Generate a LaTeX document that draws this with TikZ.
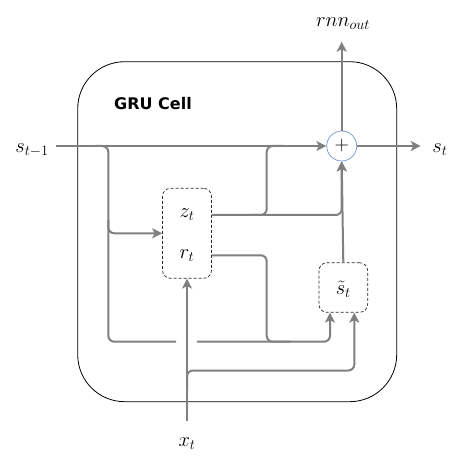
\RequirePackage{fix-cm}
\documentclass[tikz,border=0pt]{standalone}
\usepackage{fontspec}
\newfontfamily\labelfont{DejaVu Sans}
\usetikzlibrary{arrows.meta}
\begin{document}
\begin{tikzpicture}[x=1pt,y=-1pt,
  wire/.style={draw={rgb,255:red,128;green,128;blue,128}, line width=2pt, rounded corners=6pt},
  arr/.style={-{Stealth[length=10pt,width=10pt,inset=2.5pt]}},
  gatebox/.style={draw={rgb,255:red,40;green,40;blue,40}, line width=0.7pt, dash pattern=on 3pt off 2pt, rounded corners=8pt, inner sep=0pt},
  lbl/.style={font=\fontsize{20.5}{24}\selectfont, inner sep=0pt}
]
\useasboundingbox (0,0) rectangle (469,468);
% outer cell
\node[draw, line width=0.8pt, rounded corners=47pt, minimum width=319pt, minimum height=340pt] (cell) at (237.2,231.7) {};
\node[font=\labelfont\bfseries\fontsize{16}{18}\selectfont, inner sep=0pt] (title) at (153,104) {GRU Cell};
% gates
\node[gatebox, minimum width=49pt, minimum height=90pt] (gate) at (187,233.3) {};
\node[lbl] (zt) at (187,215) {$z_t$};
\node[lbl] (rt) at (187,255.3) {$r_t$};
\node[gatebox, minimum width=48.7pt, minimum height=49.6pt] (st) at (343.3,287.5) {};
\node[lbl] (stl) at (343.3,289) {$\tilde{s}_t$};
% adder
\node[circle, draw={rgb,255:red,110;green,150;blue,215}, line width=0.7pt, minimum size=30pt, inner sep=0pt, font=\fontsize{20}{22}\selectfont] (plus) at (341.7,146) {$+$};
% outer labels
\node[lbl] (sin) at (32,150) {$s_{t-1}$};
\node[lbl] (sout) at (440,150) {$s_t$};
\node[lbl] (rnn) at (343,24) {$rnn_{out}$};
\node[lbl] (xin) at (187,444) {$x_t$};
% free ends
\coordinate (a0) at (56,146);
\coordinate (rnntip) at (341.7,41.7);
\coordinate (souttip) at (420.7,146);
\coordinate (x0) at (187,420.7);
% main state line
\draw[wire,arr] (a0) -- (plus.west);
\draw[wire,arr] (plus.east) -- (souttip);
\draw[wire,arr] (plus.north) -- (rnntip);
% s_{t-1} branches
\draw[wire] (95,146) -- (108.3,146) -- (108.3,341.7) -- (176,341.7);
\draw[wire,arr] (108.3,220) -- (108.3,233.3) -- (gate.west);
\draw[wire,arr] (197,341.7) -- (330,341.7) -- ([xshift=-13.3pt]st.south);
% z_t output
\draw[wire,arr] (gate.east |- zt) -- (341.7,215) -- (plus.south);
\draw[wire] (285,146) -- (266.7,146) -- (266.7,215) -- (250,215);
\draw[wire,arr] (st.north) -- (plus.south);
% r_t output
\draw[wire] (gate.east |- rt) -- (266.7,255.3) -- (266.7,341.7) -- (290,341.7);
% x_t input
\draw[wire,arr] (x0) -- (gate.south);
\draw[wire,arr] (187,390) -- (187,370.5) -- (354.3,370.5) -- ([xshift=11pt]st.south);
\end{tikzpicture}
\end{document}
